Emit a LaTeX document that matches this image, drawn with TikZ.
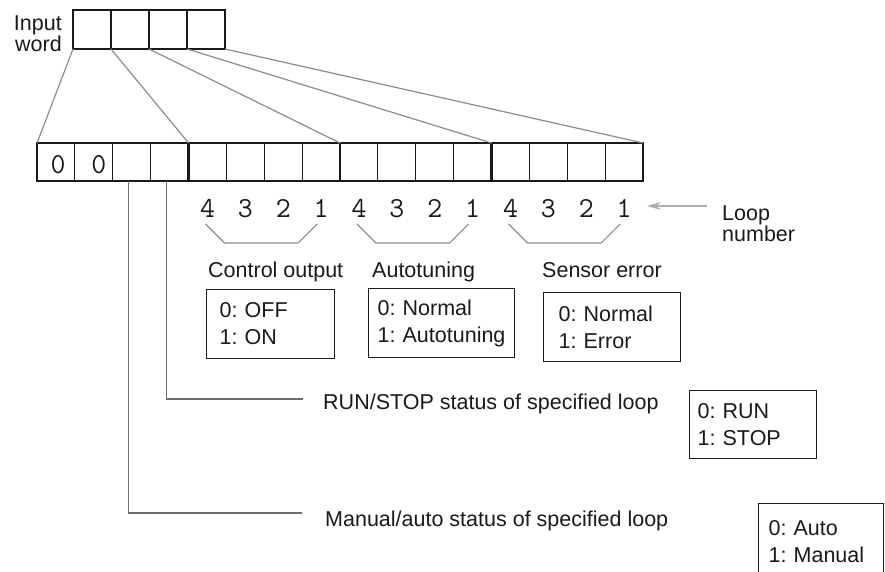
\documentclass[tikz,border=0pt]{standalone}
\usepackage{fontspec}
\setmainfont{Liberation Sans}
\usetikzlibrary{arrows.meta,positioning,calc}
\definecolor{Ink}{HTML}{1A1A1A}
\definecolor{Fan}{HTML}{8C8C8C}
\definecolor{Lead}{HTML}{6E6E6E}
\frenchspacing

\begin{document}
\begin{tikzpicture}[x=1pt,y=-1pt,
  wcell/.style={draw=Ink,line width=1.6pt,minimum width=38pt,minimum height=39pt,inner sep=0pt,outer sep=0pt},
  rcell/.style={draw=Ink,line width=1.1pt,minimum width=37.875pt,minimum height=38pt,inner sep=0pt,outer sep=0pt},
  group/.style={draw=Ink,line width=2.6pt},
  digit/.style={font=\ttfamily\fontsize{29}{29}\selectfont,text=Ink,inner sep=0pt},
  lbl/.style={font=\fontsize{21.5}{20}\selectfont,text=Ink,inner sep=0pt,align=left},
  valbox/.style={draw=Ink,line width=1.1pt,anchor=north west,align=left,font=\fontsize{21.5}{27}\selectfont\frenchspacing,text=Ink,inner ysep=0pt},
  fan/.style={draw=Fan,line width=1.2pt},
  leader/.style={draw=Lead,line width=1.2pt},
  bracket/.style={draw=Fan,line width=1.2pt},
  looparrow/.style={draw=Fan!70,line width=1.2pt,-{Stealth[length=14pt,width=8pt]}}
]
  \useasboundingbox (0,0) rectangle (885,572);
  \clip (0,0) rectangle (885,572);

  % input word and register
  \foreach \i in {1,...,4}
    \node[wcell] (w\i) at ({54+38*\i},29.5) {};
  \foreach \i in {1,...,16}
    \node[rcell] (r\i) at ({18.125+37.875*\i},162) {};
  \foreach \a/\b in {1/4,5/8,9/12,13/16}
    \draw[group] (r\a.north west) rectangle (r\b.south east);

  \draw[fan] (w1.south west) -- (r1.north west);
  \draw[fan] (w1.south east) -- (r5.north west);
  \draw[fan] (w2.south east) -- (r9.north west);
  \draw[fan] (w3.south east) -- (r13.north west);
  \draw[fan] (w4.south east) -- (r16.north east);

  \node[digit] (z1) at ([shift={(2pt,-3pt)}]r1.center) {0};
  \node[digit] (z2) at ([shift={(5pt,-3pt)}]r2.center) {0};

  % loop numbers
  \foreach \i in {5,...,16}{
    \pgfmathtruncatemacro\n{4-mod(\i-1,4)}
    \node[digit,anchor=base] (d\i) at ([yshift=-36pt]r\i.south) {\n};
  }
  \foreach \a in {5,9,13}{
    \pgfmathtruncatemacro\b{\a+3}
    \draw[bracket] ([shift={(-2pt,-7pt)}]d\a.base) -- ([shift={(17pt,-26pt)}]d\a.base)
      -- ([shift={(-23pt,-26pt)}]d\b.base) -- ([shift={(-4pt,-7pt)}]d\b.base);
  }

  \node[lbl,anchor=north east,align=right] (inword) at (62,15.6) {Input\\word};
  \node[lbl,anchor=north west] (loopnum) at (722,205.6) {Loop\\number};
  \coordinate (looptail) at (707,206);
  \draw[looparrow,shorten >=4pt] (looptail) -- (looptail -| r16.east);

  % meaning of the bits
  \node[lbl,anchor=base west] (colab) at (208,277) {Control output};
  \node[lbl,anchor=base west] (atlab) at (372,277) {Autotuning};
  \node[lbl,anchor=base west] (selab) at (542,277) {Sensor error};
  \node[valbox,inner xsep=13pt,text width=102pt,minimum height=69pt] (cobox) at (206,289) {0: OFF\\1: ON};
  \node[valbox,inner xsep=9pt,text width=128pt,minimum height=69pt] (atbox) at (368,288) {0: Normal\\1: Autotuning};
  \node[valbox,inner xsep=15pt,text width=107pt,minimum height=69pt] (sebox) at (543,292) {0: Normal\\1: Error};

  \coordinate (rsend) at (303,399);
  \coordinate (maend) at (302,513);
  \draw[leader] ([xshift=-3pt]r4.south) |- (rsend);
  \draw[leader] ([xshift=-3pt]r3.south) |- (maend);
  \node[lbl,anchor=base west] (rslab) at (323,409) {RUN/STOP status of specified loop};
  \node[lbl,anchor=base west] (malab) at (325,526) {Manual/auto status of specified loop};
  \node[valbox,inner xsep=8pt,text width=111pt,minimum height=68pt] (rsbox) at (689,390) {0: RUN\\1: STOP};
  \node[valbox,inner xsep=10pt,text width=105pt,minimum height=76pt] (mabox) at (758,503) {0: Auto\\1: Manual};
\end{tikzpicture}
\end{document}
